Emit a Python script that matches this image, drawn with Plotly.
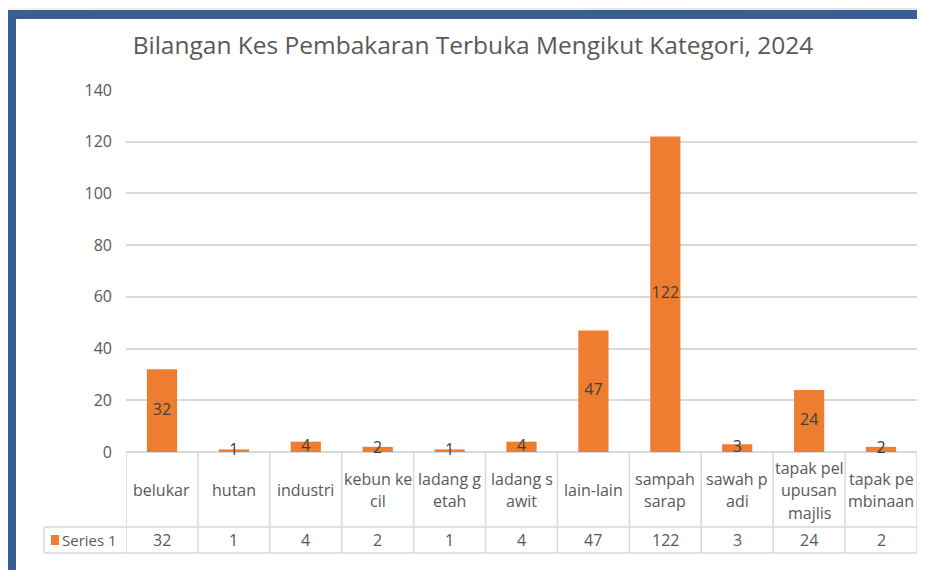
import plotly.graph_objects as go

# ---------------- data ----------------
categories = ["belukar", "hutan", "industri", "kebun kecil", "ladang getah",
              "ladang sawit", "lain-lain", "sampah sarap", "sawah padi",
              "tapak pelupusan majlis", "tapak pembinaan"]
values = [32, 1, 4, 2, 1, 4, 47, 122, 3, 24, 2]
tick_label_lines = [["belukar"], ["hutan"], ["industri"], ["kebun ke", "cil"],
                    ["ladang g", "etah"], ["ladang s", "awit"], ["lain-lain"],
                    ["sampah", "sarap"], ["sawah p", "adi"],
                    ["tapak pel", "upusan", "majlis"], ["tapak pe", "mbinaan"]]
y_ticks = [0, 20, 40, 60, 80, 100, 120, 140]
series_name = "Series 1"
title_text = "Bilangan Kes Pembakaran Terbuka Mengikut Kategori, 2024"

# ---------------- layout geometry (page pixels) ----------------
OFF = 8                      # the page body margin shifts the figure by 8 px
PW, PH = 925, 570            # page size
W, H = PW - OFF, PH - OFF    # figure size
L, R, T, B = 126, 917, 90, 452   # plot area in page pixels
FONT = "Open Sans"
ORANGE = "#ED7D31"
GRID = "#d9d9d9"
TXT = "#595959"

def fx(p):
    return (p - L) / (R - L)

def fy(p):
    return (B - p) / (B - T)

n = len(categories)
xs = list(range(n))

fig = go.Figure()
fig.add_trace(go.Bar(x=xs, y=values, marker_color=ORANGE, width=0.42,
                     marker_line_width=0, name=series_name, showlegend=False,
                     hoverinfo="skip"))
# data labels centred on bars
fig.add_trace(go.Scatter(x=xs, y=[v / 2 for v in values], mode="text",
                         text=[str(v) for v in values],
                         textfont=dict(family=FONT, size=16, color="#404040"),
                         textposition="middle center", showlegend=False,
                         hoverinfo="skip", cliponaxis=False))

shapes = []
# background decorations
steps = 30
c0 = (246, 240, 224)
c1 = (224, 230, 238)
for i in range(steps):
    t = i / (steps - 1)
    col = "rgb(%d,%d,%d)" % tuple(int(c0[k] + (c1[k] - c0[k]) * t) for k in range(3))
    shapes.append(dict(type="rect", xref="paper", yref="paper",
                       x0=fx(PW * i / steps), x1=fx(PW * (i + 1) / steps + 1),
                       y0=fy(0), y1=fy(10), fillcolor=col, line_width=0, layer="below"))
shapes.append(dict(type="rect", xref="paper", yref="paper", x0=fx(0), x1=fx(8),
                   y0=fy(0), y1=fy(PH), fillcolor="rgb(246,240,224)", line_width=0, layer="below"))
shapes.append(dict(type="rect", xref="paper", yref="paper", x0=fx(8), x1=fx(PW),
                   y0=fy(10), y1=fy(19), fillcolor="#366092", line_width=0, layer="below"))
shapes.append(dict(type="rect", xref="paper", yref="paper", x0=fx(8), x1=fx(16),
                   y0=fy(10), y1=fy(PH), fillcolor="#366092", line_width=0, layer="below"))

# data table lines
for yy in (527, 553):
    shapes.append(dict(type="line", xref="paper", yref="paper", x0=fx(44), x1=1,
                       y0=fy(yy), y1=fy(yy), line=dict(color=GRID, width=1.5)))
shapes.append(dict(type="line", xref="paper", yref="paper", x0=fx(44), x1=fx(44),
                   y0=fy(527), y1=fy(553), line=dict(color=GRID, width=1.5)))
for k in range(n + 1):
    shapes.append(dict(type="line", xref="x", yref="paper", x0=k - 0.5, x1=k - 0.5,
                       y0=fy(452), y1=fy(553), line=dict(color=GRID, width=1.5)))

annotations = []
# category labels inside the table
line_h = 22.5
cell_mid = 490
for i, lines in enumerate(tick_label_lines):
    m = len(lines)
    for j, s in enumerate(lines):
        yy = cell_mid + (j - (m - 1) / 2) * line_h
        annotations.append(dict(x=i, y=fy(yy), xref="x", yref="paper", text=s,
                                showarrow=False, xanchor="center", yanchor="middle",
                                font=dict(family=FONT, size=16, color=TXT)))
# value row
for i, v in enumerate(values):
    annotations.append(dict(x=i, y=fy(540), xref="x", yref="paper", text=str(v),
                            showarrow=False, xanchor="center", yanchor="middle",
                            font=dict(family=FONT, size=16, color=TXT)))
# legend key
shapes.append(dict(type="rect", xref="paper", yref="paper", x0=fx(51), x1=fx(59),
                   y0=fy(535), y1=fy(545), fillcolor=ORANGE, line_width=0))
annotations.append(dict(x=fx(60), y=fy(540), xref="paper", yref="paper", text=series_name,
                        showarrow=False, xanchor="left", yanchor="middle",
                        font=dict(family=FONT, size=15, color=TXT)))

fig.update_layout(
    width=W, height=H,
    margin=dict(l=L - OFF, r=PW - R, t=T - OFF, b=PH - B, pad=0),
    paper_bgcolor="white", plot_bgcolor="white",
    title=dict(text=title_text, x=fx(473), xref="paper", xanchor="center",
               y=1 - (45 - OFF) / H, yanchor="middle",
               font=dict(family=FONT, size=24.5, color=TXT)),
    xaxis=dict(range=[-0.5, n - 0.5], showticklabels=False, showgrid=False,
               zeroline=False, showline=False, ticks="", fixedrange=True),
    yaxis=dict(range=[0, 140], tickvals=y_ticks, showgrid=True, gridcolor=GRID,
               gridwidth=1.5, zeroline=True, zerolinecolor=GRID, zerolinewidth=1.5,
               showline=False, ticks="", ticklabelstandoff=13,
               tickfont=dict(family=FONT, size=16, color=TXT)),
    shapes=shapes, annotations=annotations, bargap=0.58,
)

fig.write_html("out.html")
